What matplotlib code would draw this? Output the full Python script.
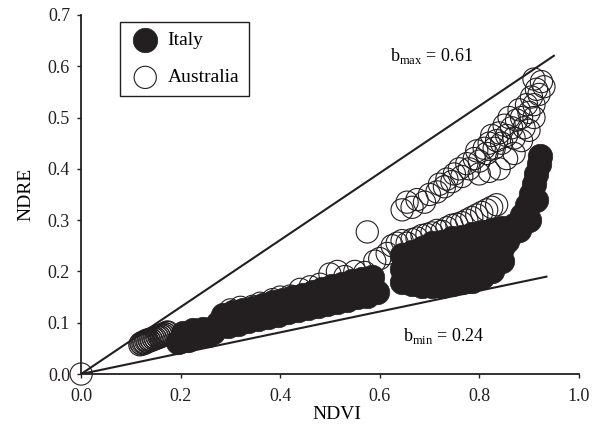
import matplotlib
matplotlib.use("Agg")
import matplotlib.pyplot as plt

plt.rcParams["font.family"] = ["Liberation Serif", "DejaVu Serif"]
plt.rcParams["mathtext.fontset"] = "custom"
plt.rcParams["mathtext.rm"] = "Liberation Serif"

# Italy (filled circles)
italy_ndvi = [
    0.195, 0.205, 0.215, 0.225, 0.235, 0.245, 0.255, 0.265, 0.275, 0.285,
    0.295, 0.305, 0.315, 0.325, 0.335, 0.345, 0.355, 0.365, 0.375, 0.385,
    0.395, 0.405, 0.415, 0.425, 0.435, 0.445, 0.455, 0.465, 0.475, 0.485,
    0.495, 0.505, 0.515, 0.525, 0.535, 0.545, 0.555, 0.565, 0.575, 0.585,
    0.595,
    0.645, 0.645, 0.645, 0.665, 0.665, 0.665, 0.685, 0.685, 0.685, 0.685,
    0.705, 0.705, 0.705, 0.705, 0.725, 0.725, 0.725, 0.725, 0.745, 0.745,
    0.745, 0.745, 0.765, 0.765, 0.765, 0.765, 0.785, 0.785, 0.785, 0.785,
    0.805, 0.805, 0.805, 0.805, 0.825, 0.825, 0.825, 0.825, 0.845, 0.845,
    0.845,
    0.855, 0.865, 0.870, 0.880, 0.885, 0.895, 0.900, 0.905, 0.910, 0.915,
    0.915, 0.920, 0.922,
]
italy_ndre = [
    0.062, 0.080, 0.066, 0.085, 0.074, 0.088, 0.076, 0.082, 0.100, 0.115,
    0.094, 0.120, 0.098, 0.124, 0.104, 0.128, 0.108, 0.134, 0.112, 0.140,
    0.116, 0.145, 0.120, 0.150, 0.125, 0.155, 0.128, 0.160, 0.132, 0.166,
    0.136, 0.172, 0.140, 0.176, 0.145, 0.182, 0.150, 0.186, 0.152, 0.190,
    0.160,
    0.180, 0.205, 0.232, 0.175, 0.200, 0.238, 0.172, 0.195, 0.220, 0.245,
    0.172, 0.192, 0.218, 0.255, 0.172, 0.200, 0.228, 0.258, 0.175, 0.200,
    0.232, 0.265, 0.180, 0.205, 0.235, 0.268, 0.182, 0.210, 0.240, 0.272,
    0.190, 0.215, 0.245, 0.276, 0.200, 0.225, 0.252, 0.280, 0.220, 0.245,
    0.285,
    0.260, 0.275, 0.290, 0.280, 0.310, 0.330, 0.300, 0.350, 0.370, 0.340,
    0.390, 0.410, 0.425,
]

# Australia (open circles)
australia_ndvi = [
    0.000,
    0.118, 0.120, 0.122, 0.124, 0.126, 0.128, 0.130, 0.132, 0.134, 0.136,
    0.138, 0.140, 0.142, 0.144, 0.146, 0.148, 0.150, 0.152, 0.154, 0.156,
    0.158, 0.160, 0.162, 0.164, 0.166, 0.168, 0.170, 0.172, 0.174,
    0.300, 0.320, 0.345, 0.360, 0.385, 0.400, 0.420, 0.440, 0.460, 0.480,
    0.500, 0.515, 0.530, 0.550, 0.570, 0.590, 0.600, 0.615, 0.625, 0.635,
    0.645, 0.655, 0.665, 0.675, 0.685, 0.695, 0.705, 0.715, 0.725, 0.735,
    0.745, 0.755, 0.765, 0.775, 0.785, 0.795, 0.805, 0.815, 0.825, 0.835,
    0.575,
    0.645, 0.655, 0.665, 0.675, 0.690, 0.700, 0.715, 0.720, 0.730, 0.735,
    0.745, 0.750, 0.760, 0.765, 0.775, 0.780, 0.790, 0.795, 0.800, 0.810,
    0.815, 0.820, 0.825, 0.830, 0.835, 0.840, 0.845, 0.850, 0.855, 0.860,
    0.865, 0.870, 0.875, 0.880, 0.885, 0.890, 0.895, 0.900, 0.905, 0.910,
    0.915, 0.920, 0.925, 0.930, 0.910,
    0.800, 0.820, 0.840, 0.855, 0.870, 0.885, 0.900, 0.910,
]
australia_ndre = [
    0.000,
    0.057, 0.060, 0.058, 0.061, 0.063, 0.060, 0.064, 0.066, 0.063, 0.067,
    0.065, 0.068, 0.066, 0.070, 0.068, 0.071, 0.069, 0.073, 0.071, 0.074,
    0.072, 0.076, 0.074, 0.077, 0.076, 0.079, 0.078, 0.081, 0.082,
    0.125, 0.130, 0.132, 0.138, 0.145, 0.150, 0.152, 0.165, 0.170, 0.175,
    0.195, 0.200, 0.190, 0.200, 0.198, 0.220, 0.225, 0.235, 0.250, 0.255,
    0.260, 0.255, 0.262, 0.265, 0.270, 0.272, 0.275, 0.280, 0.278, 0.285,
    0.290, 0.292, 0.295, 0.300, 0.305, 0.310, 0.315, 0.320, 0.325, 0.330,
    0.277,
    0.320, 0.335, 0.325, 0.340, 0.335, 0.350, 0.355, 0.370, 0.365, 0.380,
    0.375, 0.390, 0.400, 0.385, 0.410, 0.400, 0.420, 0.435, 0.415, 0.440,
    0.430, 0.450, 0.465, 0.440, 0.455, 0.470, 0.450, 0.485, 0.465, 0.500,
    0.480, 0.460, 0.495, 0.515, 0.500, 0.480, 0.525, 0.510, 0.540, 0.525,
    0.555, 0.545, 0.570, 0.560, 0.575,
    0.390, 0.395, 0.400, 0.420, 0.430, 0.455, 0.475, 0.500,
]

# boundary lines through the origin
line_labels = [r"b$_{\mathrm{max}}$ = 0.61", r"b$_{\mathrm{min}}$ = 0.24"]
line_slopes = [0.653, 0.203]
line_x_end = [0.95, 0.935]
label_pos = [(0.705, 0.62), (0.728, 0.075)]

fig = plt.figure(figsize=(6.01, 4.26), dpi=100)
ax = fig.add_axes([0.135, 0.122, 0.828, 0.843])

ax.scatter(australia_ndvi, australia_ndre, s=256, facecolors="none",
           edgecolors="#231f20", linewidths=0.8, clip_on=False,
           label="Australia", zorder=3)
ax.scatter(italy_ndvi, italy_ndre, s=310, c="#231f20",
           edgecolors="#231f20", linewidths=0.5, label="Italy", zorder=2)

for slope, xe, txt, pos in zip(line_slopes, line_x_end, line_labels, label_pos):
    ax.plot([0, xe], [0, slope * xe], color="#231f20", lw=1.5, zorder=4)
    ax.text(pos[0], pos[1], txt, fontsize=13, ha="center", va="center")

ax.set_xlim(0, 1.0)
ax.set_ylim(0, 0.7)
ax.set_xticks([0.0, 0.2, 0.4, 0.6, 0.8, 1.0])
ax.set_yticks([0.0, 0.1, 0.2, 0.3, 0.4, 0.5, 0.6, 0.7])
ax.xaxis.set_major_formatter(plt.FormatStrFormatter("%.1f"))
ax.yaxis.set_major_formatter(plt.FormatStrFormatter("%.1f"))
ax.tick_params(direction="out", length=3, width=1, labelsize=13,
               colors="#231f20")
ax.tick_params(axis="x", pad=7)
ax.tick_params(axis="y", pad=5)
for side in ["top", "right"]:
    ax.spines[side].set_visible(False)
for side in ["left", "bottom"]:
    ax.spines[side].set_linewidth(1.3)
    ax.spines[side].set_color("#231f20")

ax.set_xlabel("NDVI", fontsize=14)
ax.set_ylabel("NDRE", fontsize=14)
ax.xaxis.set_label_coords(0.514, -0.09)
ax.yaxis.set_label_coords(-0.093, 0.5)

handles, labels = ax.get_legend_handles_labels()
leg = ax.legend(handles[::-1], labels[::-1], loc="upper left",
                bbox_to_anchor=(0.078, 0.98), borderaxespad=0,
                fontsize=14, fancybox=False, edgecolor="#231f20",
                framealpha=1, labelspacing=1.0, handletextpad=0.35,
                borderpad=0.5, handlelength=1.6)
leg.get_frame().set_linewidth(1.0)

fig.savefig("out.png", dpi=100)
